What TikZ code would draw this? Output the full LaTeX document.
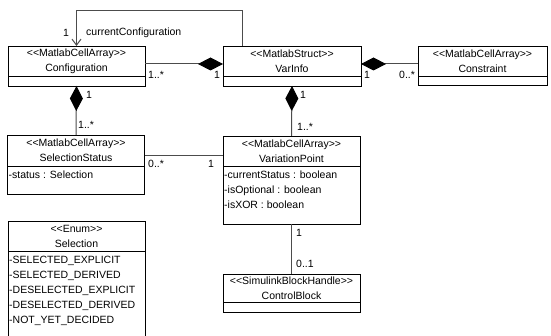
\documentclass[tikz,border=0pt]{standalone}
\usepackage{fontspec}
\setmainfont{Liberation Sans}[Ligatures=TeXOff]
\usetikzlibrary{arrows.meta,positioning}

\begin{document}
\begin{tikzpicture}[
  x=1pt, y=-1pt,
  font=\fontsize{10.5}{15}\selectfont,
  classhead/.style={rectangle, draw, line width=0.8pt, minimum width=137pt, minimum height=30pt, inner sep=0pt, outer sep=0pt, align=center},
  classbody/.style={rectangle, draw, line width=0.8pt, minimum width=137pt, inner sep=0pt, outer sep=0pt},
  attrtext/.style={anchor=north west, inner xsep=1pt, inner ysep=5pt, align=left},
  mult/.style={anchor=west, inner sep=0pt},
  link/.style={draw=black!70, line width=1pt},
  compose/.style={link, -{Diamond[length=25pt, width=13pt, color=black]}},
]
\clip (0,0) rectangle (551,336);

% classes
\node[classhead] (config) at (76.5,61) {<<MatlabCellArray>>\\Configuration};
\node[classbody, minimum height=10pt, below=0pt of config] (config-body) {};

\node[classhead, minimum width=138pt] (varinfo) at (292,61) {<<MatlabStruct>>\\VarInfo};
\node[classbody, minimum width=138pt, minimum height=10pt, below=0pt of varinfo] (varinfo-body) {};

\node[classhead, minimum width=129pt] (constraint) at (482.5,61) {<<MatlabCellArray>>\\Constraint};
\node[classbody, minimum width=129pt, minimum height=9pt, below=0pt of constraint] (constraint-body) {};

\node[classhead, minimum height=31pt] (selstatus) at (76,150.5) {<<MatlabCellArray>>\\SelectionStatus};
\node[classbody, minimum height=28pt, below=0pt of selstatus] (selstatus-body) {};
\node[attrtext] (selstatus-attr) at (selstatus-body.north west) {-status : Selection};

\node[classhead] (varpoint) at (291.5,151) {<<MatlabCellArray>>\\VariationPoint};
\node[classbody, minimum height=58pt, below=0pt of varpoint] (varpoint-body) {};
\node[attrtext] (varpoint-attr) at (varpoint-body.north west) {-currentStatus : boolean\\-isOptional : boolean\\-isXOR : boolean};

\node[classhead, minimum height=28pt] (ctrlblock) at (291.5,288) {<<SimulinkBlockHandle>>\\ControlBlock};
\node[classbody, minimum height=10pt, below=0pt of ctrlblock] (ctrlblock-body) {};

\node[classhead] (selection) at (76.5,236) {<<Enum>>\\Selection};
\node[classbody, minimum height=120pt, below=0pt of selection] (selection-body) {};
\node[attrtext] (selection-attr) at (selection-body.north west) {-SELECTED\_EXPLICIT\\-SELECTED\_DERIVED\\-DESELECTED\_EXPLICIT\\-DESELECTED\_DERIVED\\-NOT\_YET\_DECIDED};

% connectors
\draw[link, -{Straight Barb[length=6pt, width=9pt]}] ([xshift=19pt]varinfo.north west) -- ++(0,-35) -| (config.north);
\draw[compose] ([yshift=-3pt]config.east) coordinate (cv-link) -- (cv-link -| varinfo.west);
\draw[compose] ([yshift=-3pt]constraint.west) coordinate (vc-link) -- (vc-link -| varinfo.east);
\draw[compose] (selstatus.north) -- (config-body.south);
\draw[compose] (varpoint.north) -- (varinfo-body.south);
\draw[link] ([yshift=-5.5pt]selstatus.east) coordinate (sv-link) -- (sv-link -| varpoint.west);
\draw[link] (varpoint-body.south) -- (ctrlblock.north);

% roles and multiplicities
\node[mult] (m-loop) at (63,33) {1};
\node[mult] (role-loop) at (86,33) {currentConfiguration};
\node[mult] (m-cv1) at (148,75) {1..*};
\node[mult] (m-cv2) at (214,75) {1};
\node[mult] (m-vc1) at (364,75) {1};
\node[mult] (m-vc2) at (399,75) {0..*};
\node[mult] (m-cs1) at (86,95) {1};
\node[mult] (m-cs2) at (78,125) {1..*};
\node[mult] (m-vv1) at (300,95) {1};
\node[mult] (m-vv2) at (297,127) {1..*};
\node[mult] (m-sv1) at (148,164) {0..*};
\node[mult] (m-sv2) at (208,164) {1};
\node[mult] (m-vb1) at (296,233) {1};
\node[mult] (m-vb2) at (296,264) {0..1};
\end{tikzpicture}
\end{document}
